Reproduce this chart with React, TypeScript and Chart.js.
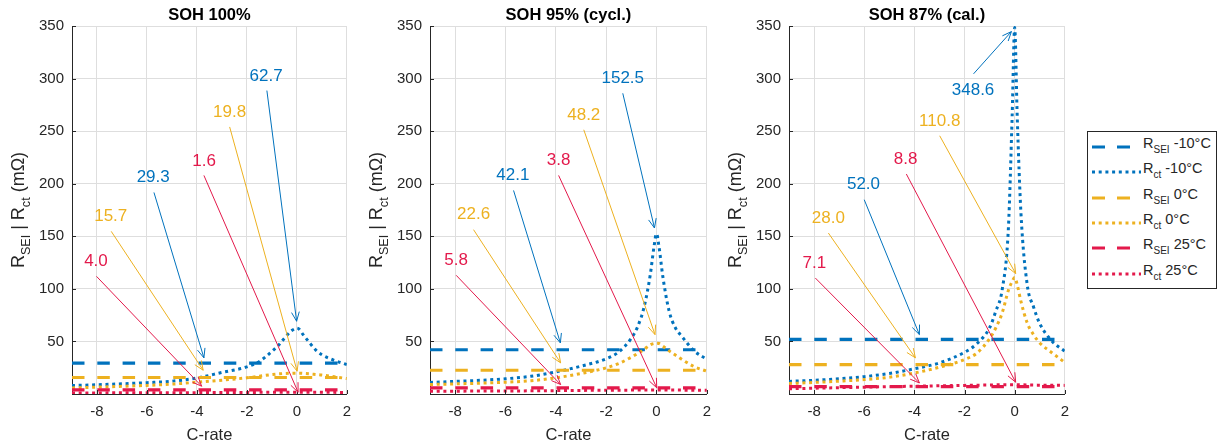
import React, { useEffect, useRef } from 'react';
import { Chart, registerables } from 'chart.js';

Chart.register(...registerables);

// ---------- data ----------
const X = [-9, -8, -7, -6, -5, -4, -3, -2, -1.5, -1, -0.75, -0.5, -0.25, -0.1, 0, 0.1, 0.25, 0.5, 0.75, 1, 1.5, 2];
const xTicks = [-8, -6, -4, -2, 0, 2];
const yTicks = [50, 100, 150, 200, 250, 300, 350];
const panelTitles = ['SOH 100%', 'SOH 95% (cycl.)', 'SOH 87% (cal.)'];

// R_SEI (constant over C-rate), per panel
const rseiM10 = [29.3, 42.1, 52.0];
const rsei0 = [15.7, 22.6, 28.0];
const rsei25 = [4.0, 5.8, 7.1];

// R_ct peak values (labels), per panel
const rctPeakM10 = [62.7, 152.5, 348.6];
const rctPeak0 = [19.8, 48.2, 110.8];
const rctPeak25 = [1.6, 3.8, 8.8];

// R_ct curves over C-rate
const rctM10_100 = [8, 8.8, 9.7, 10.8, 12.2, 15.2, 20.5, 25.8, 31, 40.5, 46, 53, 59.5, 61.8, 62.7, 61.5, 56.5, 49, 42, 37.3, 32, 28];
const rct0_100 = [5.8, 6.5, 7.3, 8.2, 9.4, 11.2, 13.1, 15.4, 16.9, 18.5, 19.1, 19.5, 19.7, 19.8, 19.8, 19.8, 19.6, 19.2, 18.6, 18, 16.4, 14.7];
const rct25_100 = [1.0, 1.05, 1.1, 1.15, 1.2, 1.3, 1.4, 1.5, 1.55, 1.58, 1.59, 1.6, 1.6, 1.6, 1.6, 1.6, 1.6, 1.6, 1.59, 1.58, 1.55, 1.5];

const rctM10_95 = [11, 12, 13, 14.5, 16.8, 21, 26.5, 33.5, 40, 53, 64, 82, 113, 140, 152.5, 140, 112, 79, 63, 55, 41, 33];
const rct0_95 = [9, 9.6, 10.3, 11.2, 12.6, 15.4, 19.5, 24.9, 29, 35, 38.5, 42.3, 46.8, 48, 48.2, 48, 45.6, 41, 37, 33, 26, 21.7];
const rct25_95 = [2.6, 2.7, 2.8, 2.9, 3.0, 3.2, 3.4, 3.6, 3.65, 3.7, 3.75, 3.8, 3.8, 3.8, 3.8, 3.8, 3.8, 3.8, 3.75, 3.7, 3.65, 3.6];

const rctM10_87 = [12, 13, 14.5, 16.5, 19.5, 24, 29.6, 39.7, 48, 63, 79, 99, 158, 265, 348.6, 265, 172, 104, 83, 67, 50, 40.7];
const rct0_87 = [10, 11, 12.2, 13.7, 16, 20, 25.5, 32.8, 39, 52.7, 63, 77, 98.6, 107, 110.8, 104, 88, 67.6, 56.5, 48.6, 39, 30];
const rct25_87 = [5.0, 5.5, 6.0, 6.5, 7.0, 7.4, 7.8, 8.2, 8.4, 8.6, 8.7, 8.75, 8.8, 8.8, 8.8, 8.8, 8.75, 8.6, 8.5, 8.4, 8.3, 8.2];

const rctM10 = [rctM10_100, rctM10_95, rctM10_87];
const rct0 = [rct0_100, rct0_95, rct0_87];
const rct25 = [rct25_100, rct25_95, rct25_87];

// legend entries: [main, subscript, suffix]
const legendLabels: [string, string, string][] = [
  ['R', 'SEI', ' -10°C'],
  ['R', 'ct', ' -10°C'],
  ['R', 'SEI', ' 0°C'],
  ['R', 'ct', ' 0°C'],
  ['R', 'SEI', ' 25°C'],
  ['R', 'ct', ' 25°C'],
];

// ---------- styles / layout ----------
const FONT = '"Liberation Sans", Arial, Helvetica, sans-serif';
const BLUE = '#0072BD';
const YELLOW = '#EDB120';
const RED = '#E3194B';
const seriesColors = [BLUE, BLUE, YELLOW, YELLOW, RED, RED];
const seriesDashed = [true, false, true, false, true, false];
const DASH = [12.5, 12.8];
const DOT = [3, 3.7];
const GRID = '#dedede';
const AXIS = '#262626';

const canvasLeft = [0, 360, 718];
const plotLeftW = [72, 70, 71];
const plotRightPad = [8, 9, 7];

// annotation layout (data coordinates): series index, label pos, arrow from, arrow to
type Ann = { s: number; tx: number; ty: number; fx: number; fy: number; ax: number; ay: number };
const annLayout: Ann[][] = [
  [
    { s: 1, tx: -1.23, ty: 302.6, fx: -1.2, fy: 288.6, ax: -0.01, ay: 69.2 },
    { s: 3, tx: -2.69, ty: 267.5, fx: -2.69, fy: 254, ax: 0.01, ay: 21.7 },
    { s: 5, tx: -3.71, ty: 221.7, fx: -3.72, fy: 207.9, ax: 0.05, ay: 1.7 },
    { s: 0, tx: -5.75, ty: 205.7, fx: -5.72, fy: 191.7, ax: -3.72, ay: 34.4 },
    { s: 2, tx: -7.45, ty: 168.6, fx: -7.43, fy: 154.7, ax: -3.75, ay: 22.6 },
    { s: 4, tx: -8.04, ty: 125.9, fx: -8.02, fy: 111.9, ax: -3.81, ay: 7.4 },
  ],
  [
    { s: 1, tx: -1.34, ty: 300.3, fx: -1.34, fy: 286, ax: -0.08, ay: 157.9 },
    { s: 3, tx: -2.89, ty: 265.5, fx: -2.89, fy: 251.3, ax: -0.06, ay: 56.5 },
    { s: 5, tx: -3.89, ty: 221.8, fx: -3.89, fy: 207.9, ax: 0.01, ay: 5.9 },
    { s: 0, tx: -5.71, ty: 207.6, fx: -5.68, fy: 193.6, ax: -3.82, ay: 48.6 },
    { s: 2, tx: -7.27, ty: 170.5, fx: -7.27, fy: 156.3, ax: -3.81, ay: 29.6 },
    { s: 4, tx: -7.96, ty: 126.8, fx: -7.96, fy: 112.9, ax: -3.81, ay: 9 },
  ],
  [
    { s: 1, tx: -1.66, ty: 289.2, fx: -1.64, fy: 304.5, ax: -0.13, ay: 344.7 },
    { s: 3, tx: -2.99, ty: 259.2, fx: -2.99, fy: 245.6, ax: 0.04, ay: 114.5 },
    { s: 5, tx: -4.35, ty: 222.8, fx: -4.32, fy: 209.2, ax: 0.04, ay: 11.2 },
    { s: 0, tx: -6.03, ty: 199, fx: -6.0, fy: 184.8, ax: -3.8, ay: 56.5 },
    { s: 2, tx: -7.43, ty: 167.4, fx: -7.43, fy: 153.1, ax: -3.96, ay: 34.4 },
    { s: 4, tx: -7.99, ty: 124.6, fx: -7.95, fy: 110.3, ax: -3.8, ay: 10.5 },
  ],
];

function labelValue(p: number, s: number): number {
  const vals = [rseiM10, rctPeakM10, rsei0, rctPeak0, rsei25, rctPeak25];
  return vals[s][p];
}

function drawArrow(ctx: CanvasRenderingContext2D, x0: number, y0: number, x1: number, y1: number, color: string) {
  ctx.save();
  ctx.strokeStyle = color;
  ctx.lineWidth = 1;
  ctx.beginPath();
  ctx.moveTo(x0, y0);
  ctx.lineTo(x1, y1);
  ctx.stroke();
  const a = Math.atan2(y1 - y0, x1 - x0);
  const L = 10;
  const w = 0.4;
  ctx.beginPath();
  ctx.moveTo(x1 - L * Math.cos(a - w), y1 - L * Math.sin(a - w));
  ctx.lineTo(x1, y1);
  ctx.lineTo(x1 - L * Math.cos(a + w), y1 - L * Math.sin(a + w));
  ctx.stroke();
  ctx.restore();
}

function drawRich(ctx: CanvasRenderingContext2D, parts: [string, boolean][], cx: number, by: number, main: number, sub: number, shift: number) {
  const fMain = `${main}px ${FONT}`;
  const fSub = `${sub}px ${FONT}`;
  let total = 0;
  for (const [t, s] of parts) {
    ctx.font = s ? fSub : fMain;
    total += ctx.measureText(t).width;
  }
  let x = cx - total / 2;
  ctx.textAlign = 'left';
  ctx.textBaseline = 'alphabetic';
  for (const [t, s] of parts) {
    ctx.font = s ? fSub : fMain;
    ctx.fillText(t, x, s ? by + shift : by);
    x += ctx.measureText(t).width;
  }
}

function Panel({ p }: { p: number }) {
  const ref = useRef<HTMLCanvasElement | null>(null);
  useEffect(() => {
    if (!ref.current) return;
    const curves = [null, rctM10[p], null, rct0[p], null, rct25[p]];
    const seis = [rseiM10[p], null, rsei0[p], null, rsei25[p], null];
    const datasets = seriesColors.map((c, i) => {
      const data = seriesDashed[i]
        ? [{ x: -9, y: seis[i] as number }, { x: 2, y: seis[i] as number }]
        : X.map((x, k) => ({ x, y: (curves[i] as number[])[k] }));
      return {
        label: String(i),
        data,
        borderColor: c,
        backgroundColor: c,
        borderWidth: seriesDashed[i] ? 3.2 : 3,
        borderDash: seriesDashed[i] ? DASH : DOT,
        borderCapStyle: 'butt' as const,
        pointRadius: 0,
        fill: false,
        cubicInterpolationMode: 'monotone' as const,
        order: 6 - i,
      };
    });

    const overlay = {
      id: 'overlay' + p,
      afterDraw(chart: any) {
        const ctx: CanvasRenderingContext2D = chart.ctx;
        const { left, right, top, bottom } = chart.chartArea;
        const xs = chart.scales.x;
        const ys = chart.scales.y;
        ctx.save();
        // inner ticks
        ctx.strokeStyle = AXIS;
        ctx.lineWidth = 1;
        ctx.beginPath();
        for (const v of yTicks) {
          const py = Math.round(ys.getPixelForValue(v)) + 0.5;
          ctx.moveTo(left, py);
          ctx.lineTo(left + 4, py);
        }
        for (const v of xTicks) {
          const px = Math.round(xs.getPixelForValue(v)) + 0.5;
          ctx.moveTo(px, bottom);
          ctx.lineTo(px, bottom - 4);
        }
        ctx.stroke();
        // title
        ctx.fillStyle = '#000';
        ctx.font = `bold 16.5px ${FONT}`;
        ctx.textAlign = 'center';
        ctx.textBaseline = 'alphabetic';
        ctx.fillText(panelTitles[p], (left + right) / 2, 20);
        // x title
        ctx.fillStyle = AXIS;
        ctx.font = `16.5px ${FONT}`;
        ctx.fillText('C-rate', (left + right) / 2, 440);
        // y title (rotated, with subscripts)
        ctx.save();
        ctx.translate(left - 48, (top + bottom) / 2);
        ctx.rotate(-Math.PI / 2);
        ctx.fillStyle = AXIS;
        drawRich(ctx, [['R', false], ['SEI', true], [' | R', false], ['ct', true], [' (mΩ)', false]], 0, 0, 18, 12.6, 5.5);
        ctx.restore();
        // annotations
        for (const a of annLayout[p]) {
          const color = seriesColors[a.s];
          drawArrow(ctx, xs.getPixelForValue(a.fx), ys.getPixelForValue(a.fy), xs.getPixelForValue(a.ax), ys.getPixelForValue(a.ay), color);
          ctx.fillStyle = color;
          ctx.font = `17px ${FONT}`;
          ctx.textAlign = 'center';
          ctx.textBaseline = 'middle';
          ctx.fillText(labelValue(p, a.s).toFixed(1), xs.getPixelForValue(a.tx), ys.getPixelForValue(a.ty));
        }
        ctx.restore();
      },
    };

    const chart = new Chart(ref.current, {
      type: 'line',
      data: { datasets: datasets as any },
      options: {
        responsive: false,
        animation: false,
        parsing: false,
        layout: { padding: { left: 0, right: plotRightPad[p], top: 26, bottom: 0 } },
        plugins: { legend: { display: false }, tooltip: { enabled: false }, title: { display: false } },
        scales: {
          x: {
            type: 'linear',
            min: -9,
            max: 2,
            afterBuildTicks: (s: any) => {
              s.ticks = xTicks.map((v) => ({ value: v }));
            },
            afterFit: (s: any) => {
              s.height = 54;
            },
            grid: { color: GRID, drawTicks: false, lineWidth: 1 },
            border: { display: true, color: AXIS, width: 1 },
            ticks: { padding: 9, color: AXIS, font: { size: 15, family: FONT }, maxRotation: 0, autoSkip: false },
          },
          y: {
            type: 'linear',
            min: 0,
            max: 350,
            afterBuildTicks: (s: any) => {
              s.ticks = yTicks.map((v) => ({ value: v }));
            },
            afterFit: (s: any) => {
              s.width = plotLeftW[p];
            },
            grid: { color: GRID, drawTicks: false, lineWidth: 1 },
            border: { display: true, color: AXIS, width: 1 },
            ticks: { padding: 8, color: AXIS, font: { size: 15, family: FONT }, autoSkip: false },
          },
        },
      },
      plugins: [overlay],
    });
    return () => chart.destroy();
  }, [p]);
  return (
    <canvas
      ref={ref}
      width={360}
      height={448}
      style={{ position: 'absolute', left: canvasLeft[p], top: 0, width: 360, height: 448 }}
    />
  );
}

function LegendSwatch({ i }: { i: number }) {
  const dash = seriesDashed[i] ? '13 12' : '3 3.7';
  return (
    <svg width={52} height={10} style={{ position: 'absolute', left: 3, top: 0 }}>
      <line x1={1} y1={5} x2={50} y2={5} stroke={seriesColors[i]} strokeWidth={3} strokeDasharray={dash} />
    </svg>
  );
}

export default function App() {
  return (
    <div style={{ position: 'fixed', left: 0, top: 0, width: 1222, height: 448, background: '#fff', overflow: 'hidden' }}>
      {[0, 1, 2].map((p) => (
        <Panel key={p} p={p} />
      ))}
      <div
        style={{
          position: 'absolute',
          left: 1087,
          top: 131,
          width: 128,
          height: 156,
          border: '1px solid #262626',
          background: '#fff',
          fontFamily: FONT,
          color: AXIS,
        }}
      >
        {legendLabels.map((l, i) => (
          <div key={i} style={{ position: 'absolute', left: 0, top: 10 + i * 25.3, width: 128, height: 10 }}>
            <LegendSwatch i={i} />
            <div style={{ position: 'absolute', left: 55, top: -7, fontSize: 14.5, lineHeight: '16px', whiteSpace: 'nowrap' }}>
              {l[0]}
              <span style={{ fontSize: 10, position: 'relative', top: 5 }}>{l[1]}</span>
              {l[2]}
            </div>
          </div>
        ))}
      </div>
    </div>
  );
}
